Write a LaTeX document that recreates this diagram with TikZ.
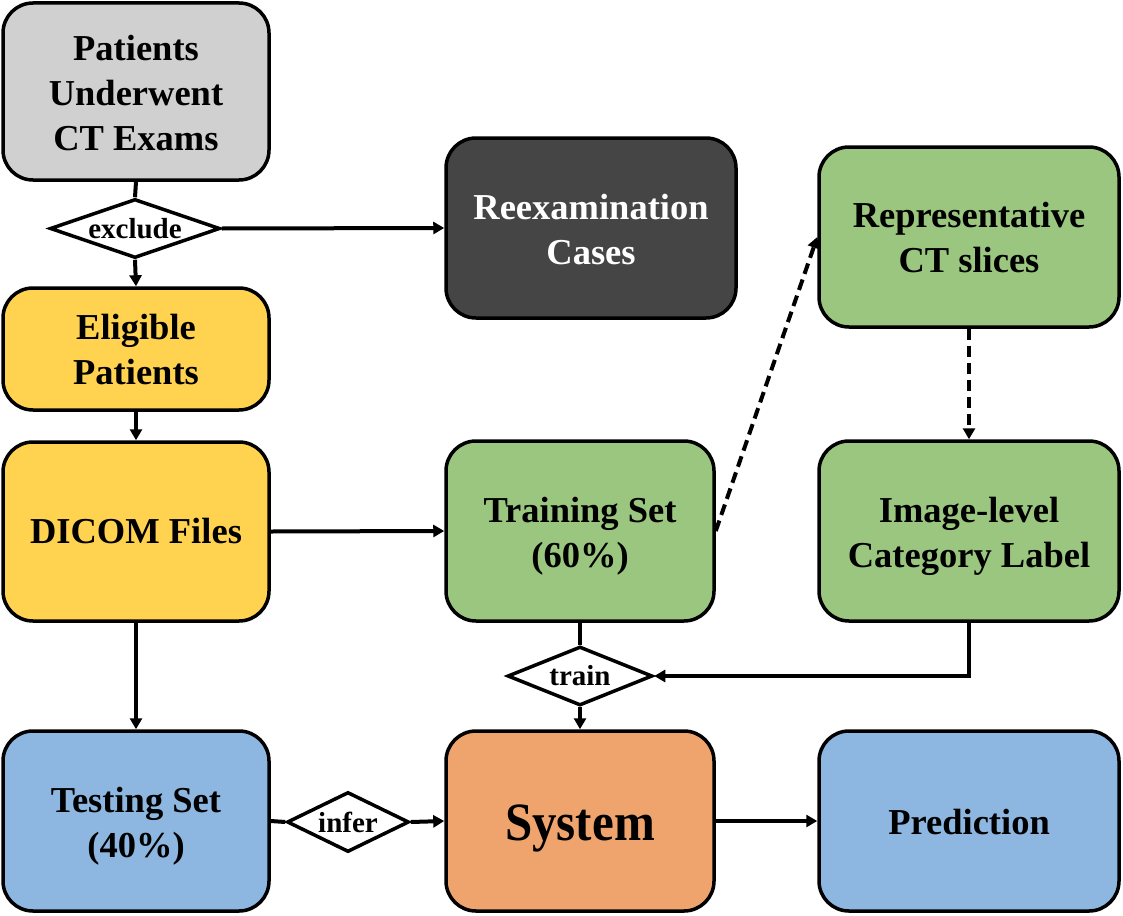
\documentclass[tikz,border=0pt]{standalone}
\usepackage{fontspec}
\setmainfont{Liberation Serif}
\usetikzlibrary{arrows.meta,shapes.geometric}
\definecolor{cgray}{HTML}{D0D0D0}
\definecolor{cdark}{HTML}{454545}
\definecolor{cyellow}{HTML}{FFD34F}
\definecolor{cgreen}{HTML}{9BC67F}
\definecolor{cblue}{HTML}{8DB6E0}
\definecolor{corange}{HTML}{F0A46D}
\tikzset{
  box/.style={draw=black, line width=3.5pt, rounded corners=30pt, inner sep=0pt},
  btext/.style={align=center, font=\bfseries\fontsize{36.5}{45}\selectfont, inner sep=0pt},
  dia/.style={draw=black, fill=white, line width=3.5pt, shape=diamond, inner sep=0pt},
  dlabel/.style={font=\bfseries\fontsize{29}{34}\selectfont, inner sep=0pt},
  conn/.style={line width=4pt},
  arr/.style={line width=4pt, -{Triangle[length=11pt,width=12pt]}},
  darr/.style={line width=4pt, dash pattern=on 11pt off 6pt, -{Triangle[length=11pt,width=12pt]}},
}
\begin{document}
\begin{tikzpicture}[x=1pt,y=-1pt]
\useasboundingbox (0,0) rectangle (1123,915);
% boxes
\node[box, fill=cgray, minimum width=266pt, minimum height=177pt] (pat) at (136,91.5) {};
\node[btext] (patt) at ([yshift=-1.5pt]pat.center) {Patients\\Underwent\\CT Exams};
\node[box, fill=cdark, minimum width=290pt, minimum height=180pt] (reex) at (591,228) {};
\node[btext, text=white] (reext) at ([yshift=-2pt]reex.center) {Reexamination\\Cases};
\node[box, fill=cyellow, minimum width=266pt, minimum height=122pt] (elig) at (136,349) {};
\node[btext] (eligt) at ([yshift=-1pt]elig.center) {Eligible\\Patients};
\node[box, fill=cyellow, minimum width=266pt, minimum height=179pt] (dicom) at (136,531.5) {};
\node[btext] (dicomt) at (dicom.center) {DICOM Files};
\node[box, fill=cgreen, minimum width=268pt, minimum height=180pt] (train) at (580,531) {};
\node[btext] (traint) at ([yshift=-5pt]train.center) {Training Set\\(60\%)};
\node[box, fill=cgreen, minimum width=300pt, minimum height=180pt] (repr) at (969,237) {};
\node[btext] (reprt) at ([yshift=-1pt]repr.center) {Representative\\CT slices};
\node[box, fill=cgreen, minimum width=300pt, minimum height=180pt] (img) at (969,531) {};
\node[btext] (imgt) at ([yshift=-5pt]img.center) {Image-level\\Category Label};
\node[box, fill=cblue, minimum width=266pt, minimum height=180pt] (test) at (136,821) {};
\node[btext] (testt) at ([yshift=-5pt]test.center) {Testing Set\\(40\%)};
\node[box, fill=corange, minimum width=268pt, minimum height=180pt] (sys) at (580,821) {};
\node[btext, font=\bfseries\fontsize{49}{55}\selectfont] (syst) at ([yshift=-7pt]sys.center) {\scalebox{1}[1.1]{System}};
\node[box, fill=cblue, minimum width=300pt, minimum height=180pt] (pred) at (969,821) {};
\node[btext] (predt) at ([yshift=-1.5pt]pred.center) {Prediction};
% diamonds
\node[dia, minimum width=170pt, minimum height=59pt] (ex) at (135,228.5) {};
\node[dlabel] (exl) at (ex.center) {exclude};
\node[dia, minimum width=145pt, minimum height=59pt] (tr) at (580,676) {};
\node[dlabel] (trl) at (tr.center) {train};
\node[dia, minimum width=122pt, minimum height=60pt] (inf) at (348,822) {};
\node[dlabel] (infl) at (inf.center) {infer};
% connectors
\draw[conn] (pat.south) -- (ex.north);
\draw[arr] (ex.south) -- (elig.north);
\draw[arr] (ex.east) -- (reex.west);
\draw[arr] (elig.south) -- (dicom.north);
\draw[arr] (dicom.east) -- (train.west);
\draw[arr] (dicom.south) -- (test.north);
\draw[darr] (train.east) -- (repr.west);
\draw[darr] (repr.south) -- (img.north);
\draw[conn] (train.south) -- (tr.north);
\draw[arr] (img.south) |- (tr.east);
\draw[arr] (tr.south) -- (sys.north);
\draw[conn] (test.east) -- (inf.west);
\draw[arr] (inf.east) -- (sys.west);
\draw[arr] (sys.east) -- (pred.west);
\end{tikzpicture}
\end{document}
